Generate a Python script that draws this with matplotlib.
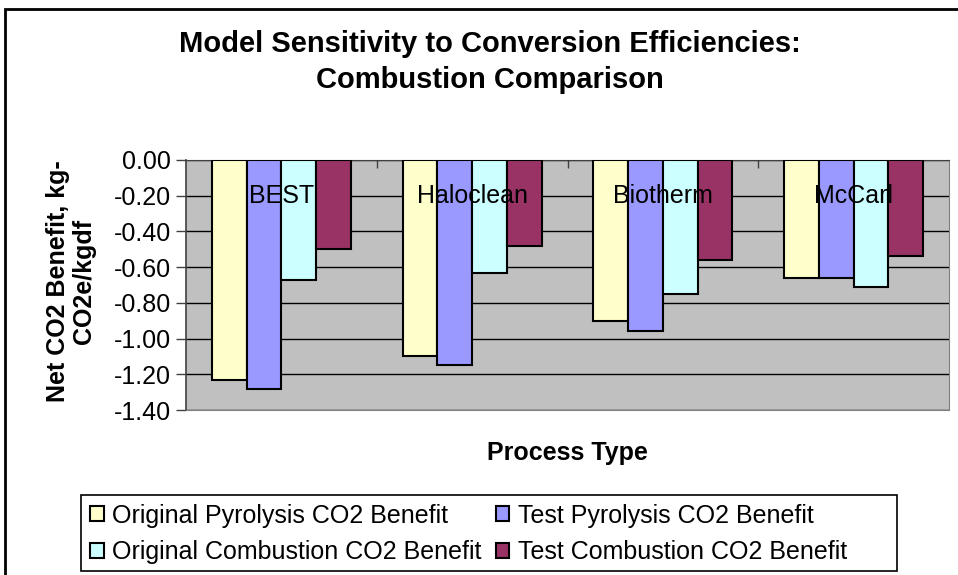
import numpy as np
import matplotlib
matplotlib.use("Agg")
import matplotlib.pyplot as plt
from matplotlib.patches import Rectangle

plt.rcParams['font.family'] = ['Liberation Sans', 'DejaVu Sans']

# Data
processes = ["BEST", "Haloclean", "Biotherm", "McCarl"]
orig_pyrolysis = [-1.23, -1.10, -0.90, -0.66]
test_pyrolysis = [-1.28, -1.15, -0.96, -0.66]
orig_combustion = [-0.67, -0.63, -0.75, -0.71]
test_combustion = [-0.50, -0.48, -0.56, -0.54]
series_names = ["Original Pyrolysis CO2 Benefit", "Test Pyrolysis CO2 Benefit",
                "Original Combustion CO2 Benefit", "Test Combustion CO2 Benefit"]
colors = ["#FFFFCC", "#9999FF", "#CCFFFF", "#993366"]
yticks = [0.0, -0.2, -0.4, -0.6, -0.8, -1.0, -1.2, -1.4]

W, H = 958, 575
fig = plt.figure(figsize=(W / 100, H / 100), dpi=100)
# plot area: x 186..949, y 160..410 px
ax = fig.add_axes([186 / W, 1 - 410 / H, (949 - 186) / W, 250 / H])
ax.set_facecolor("#C0C0C0")

# outer chart border (cut off on right and bottom like the original)
fig.patches.append(Rectangle((5 / W, -0.05), 1.05, 1.05 - 9 / H, transform=fig.transFigure,
                             fill=False, edgecolor="black", linewidth=2))

x = np.arange(len(processes))
width = 0.1825
all_series = [orig_pyrolysis, test_pyrolysis, orig_combustion, test_combustion]
bars = []
for i, vals in enumerate(all_series):
    b = ax.bar(x + (i - 1.5) * width, vals, width, color=colors[i],
               edgecolor="black", linewidth=1.5, zorder=3, label=series_names[i])
    bars.append(b)

ax.set_ylim(-1.4, 0)
ax.set_xlim(-0.5, len(processes) - 0.5)
ax.set_yticks(yticks)
ax.set_yticklabels([f"{v:.2f}" for v in yticks], fontsize=18)
ax.yaxis.grid(True, color="black", linewidth=1, zorder=0)
ax.set_axisbelow(True)

# category labels sit just under the zero line, drawn over the bars
ax.set_xticks([])
ax.set_xticks(x[:-1] + 0.5, minor=True)
ax.tick_params(axis="x", which="minor", top=True, bottom=False, direction="in",
               length=6, width=1, color="#404040")
for xi, name in zip(x, processes):
    ax.text(xi, 0.856, name, transform=ax.get_xaxis_transform(), ha="center",
            va="center", fontsize=18, zorder=5)
ax.tick_params(axis="y", direction="out", length=7, width=1, color="#404040", pad=4)

for s in ["bottom", "right"]:
    ax.spines[s].set_color("#808080")
ax.spines["left"].set_color("#404040")
ax.spines["top"].set_color("#404040")
ax.spines["left"].set_linewidth(1.2)

fig.text(490 / W, 1 - 62 / H, "Model Sensitivity to Conversion Efficiencies:\nCombustion Comparison",
         ha="center", va="center", fontsize=21, fontweight="bold", linespacing=1.35)
fig.text(71 / W, 1 - 281 / H, "Net CO2 Benefit, kg-\nCO2e/kgdf", rotation=90,
         ha="center", va="center", fontsize=18, fontweight="bold", linespacing=1.12)
fig.text(567 / W, 1 - 453 / H, "Process Type", ha="center", va="center",
         fontsize=18, fontweight="bold")

# legend, framed by a separate box as the original leaves extra room on the right
order = [0, 2, 1, 3]
leg = fig.legend([bars[i] for i in order], [series_names[i] for i in order],
                 ncol=2, loc="center left", bbox_to_anchor=(90 / W, 1 - 534 / H),
                 fontsize=18, frameon=False,
                 handlelength=0.55, handleheight=0.55, handletextpad=0.35,
                 columnspacing=0.55, borderaxespad=0, labelspacing=0.5,
                 borderpad=0)
fig.patches.append(Rectangle((81 / W, 1 - 571 / H), (897 - 81) / W, (571 - 495) / H,
                             transform=fig.transFigure, fill=False,
                             edgecolor="black", linewidth=1.2))

fig.savefig("out.png", dpi=100)
